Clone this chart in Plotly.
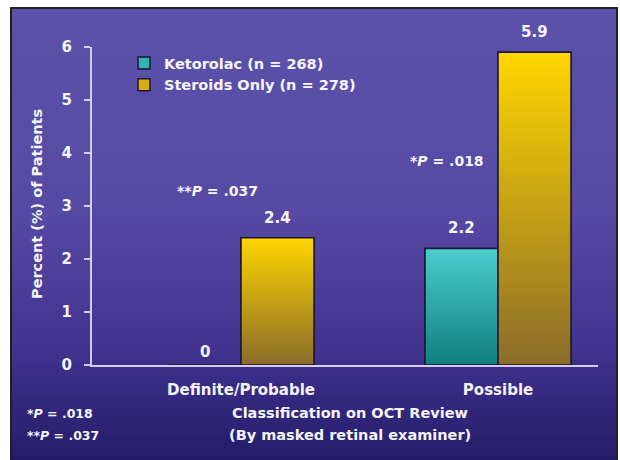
import base64
import plotly.graph_objects as go

# ---- data -------------------------------------------------------------
categories = ["Definite/Probable", "Possible"]
ketorolac = [0, 2.2]
steroids = [2.4, 5.9]
series_names = ["Ketorolac (n = 268)", "Steroids Only (n = 278)"]
y_ticks = [0, 1, 2, 3, 4, 5, 6]
p_value_labels = ["**<i>P</i> = .037", "*<i>P</i> = .018"]
footnotes = ["*<i>P</i> = .018", "**<i>P</i> = .037"]
x_title_lines = ["Classification on OCT Review", "(By masked retinal examiner)"]
y_title = "Percent (%) of Patients"

# ---- styling ----------------------------------------------------------
W, H = 620, 460
FONT = "DejaVu Sans"
TXT = "#f6f4fc"
AXIS = "#d4cdf2"
EDGE = "#1c1733"
BAR_W = 0.284


def px(x):
    return x / W


def py(y):
    return 1 - y / H


def bold(size):
    return dict(family=FONT, size=size, color=TXT, weight="bold")


# vertical purple gradient for the slide panel
bg_svg = (
    '<svg xmlns="http://www.w3.org/2000/svg" viewBox="0 0 100 100" preserveAspectRatio="none">'
    '<defs><linearGradient id="g" x1="0" y1="0" x2="0" y2="1">'
    '<stop offset="0" stop-color="#5c52aa"/>'
    '<stop offset="0.45" stop-color="#5649a3"/>'
    '<stop offset="0.75" stop-color="#40328e"/>'
    '<stop offset="1" stop-color="#231a66"/>'
    '</linearGradient></defs>'
    '<rect x="0" y="0" width="100" height="100" fill="url(#g)"/></svg>'
)
bg_uri = "data:image/svg+xml;base64," + base64.b64encode(bg_svg.encode()).decode()

series = [
    (series_names[0], ketorolac, -BAR_W, "#2fb3b3", ("#117e80", "#4acdcd")),
    (series_names[1], steroids, 0.0, "#d9ac10", ("#8a6c2a", "#ffd600")),
]

fig = go.Figure()
xs = list(range(len(categories)))

for name, vals, off, mid, _ in series:
    fig.add_bar(
        x=xs, y=vals, name=name, width=BAR_W, offset=off,
        marker=dict(color=mid, line=dict(color=EDGE, width=1.5)),
    )

# gradient fill drawn over each bar, from the same values
for name, vals, off, _, (bottom, top) in series:
    for i, v in enumerate(vals):
        if v <= 0:
            continue
        x0, x1 = i + off, i + off + BAR_W
        fig.add_scatter(
            x=[x0, x1, x1, x0, x0], y=[0, 0, v, v, 0],
            mode="lines", fill="toself",
            fillgradient=dict(type="vertical", start=0, stop=v,
                              colorscale=[[0, bottom], [1, top]]),
            line=dict(color=EDGE, width=1.5),
            showlegend=False, hoverinfo="skip",
        )


def note(**kw):
    base = dict(showarrow=False, xanchor="center", yanchor="middle", font=bold(15))
    base.update(kw)
    return base


annotations = []
# value labels above bars
for name, vals, off, _, _ in series:
    for i, v in enumerate(vals):
        annotations.append(note(
            x=i + off + BAR_W / 2, y=v, xref="x", yref="y",
            text=f"{v:g}", yshift=20 if v > 0 else 13,
        ))

# significance labels
annotations.append(note(x=-0.09, y=3.29, xref="x", yref="y",
                        text=p_value_labels[0], font=bold(14)))
annotations.append(note(x=0.80, y=3.84, xref="x", yref="y",
                        text=p_value_labels[1], font=bold(14)))

# axis titles
annotations.append(note(x=px(37), y=py(204), xref="paper", yref="paper",
                        text=y_title, textangle=-90, font=bold(14.5)))
for k, line in enumerate(x_title_lines):
    annotations.append(note(x=px(350), y=py(413 + 22 * k), xref="paper", yref="paper",
                            text=line, font=bold(14.5)))

# footnotes
for k, fn in enumerate(footnotes):
    annotations.append(note(x=px(25), y=py(413 + 22 * k), xref="paper", yref="paper",
                            text=fn, xanchor="left", font=bold(12.5)))

fig.update_layout(
    width=W, height=H, autosize=False,
    margin=dict(l=0, r=0, t=0, b=0),
    paper_bgcolor="white", plot_bgcolor="rgba(0,0,0,0)",
    barmode="overlay",
    font=dict(family=FONT, color=TXT),
    images=[dict(source=bg_uri, xref="paper", yref="paper",
                 x=px(11), y=py(8), sizex=px(617) - px(11), sizey=1,
                 xanchor="left", yanchor="top", sizing="stretch", layer="below")],
    shapes=[dict(type="rect", xref="paper", yref="paper",
                 x0=px(11), x1=px(617), y0=-0.05, y1=py(8),
                 line=dict(color="#202020", width=2), fillcolor="rgba(0,0,0,0)",
                 layer="above")],
    legend=dict(x=px(124), y=py(47), xanchor="left", yanchor="top",
                bgcolor="rgba(0,0,0,0)", font=bold(14.5), traceorder="normal"),
    annotations=annotations,
    xaxis=dict(
        domain=[px(92), px(598)], range=[-0.5798, 1.389],
        tickvals=xs, ticktext=categories, ticks="",
        showline=True, linecolor=AXIS, linewidth=2,
        showgrid=False, zeroline=False, tickfont=bold(15),
        ticklabelstandoff=10, fixedrange=True, automargin=False,
    ),
    yaxis=dict(
        domain=[py(365), py(47)], range=[0, 6],
        tickvals=y_ticks, ticks="outside", ticklen=6, tickwidth=2, tickcolor=AXIS,
        showline=True, linecolor=AXIS, linewidth=2,
        showgrid=False, zeroline=False, tickfont=bold(15),
        ticklabelstandoff=9, fixedrange=True, automargin=False,
    ),
)

fig.write_html("out.html", config={"displayModeBar": False})
